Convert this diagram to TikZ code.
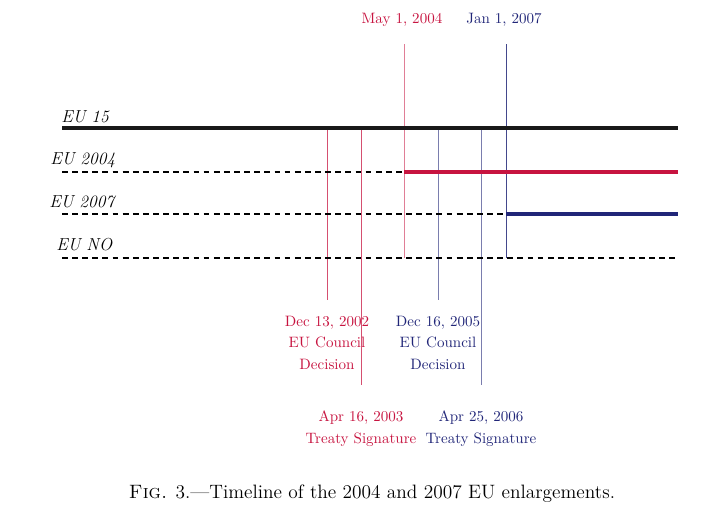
\documentclass[tikz,border=0pt]{standalone}
\usepackage{amsmath}
\usepackage{tikz}
\usetikzlibrary{positioning}

\begin{document}
\begin{tikzpicture}[x=0.0243cm,y=-0.0243cm,
  member/.style={line width=2.8pt},
  outside/.style={line width=1pt,dash pattern=on 4pt off 3pt},
  event/.style={line width=0.5pt},
  datelabel/.style={align=center,inner sep=1pt,font=\fontsize{10.4}{15.2}\selectfont},
  grouplabel/.style={anchor=west,inner sep=0pt,font=\large\itshape}]
%
\useasboundingbox (0,0) rectangle (719,512);
%
\definecolor{cred}{rgb}{0.78,0.08,0.25}
\definecolor{cblue}{rgb}{0.13,0.15,0.47}
%
\node[grouplabel] (l15) at (61,117) {EU 15};
\node[grouplabel] (l04) at (50,160) {EU 2004};
\node[grouplabel] (l07) at (49,202) {EU 2007};
\node[grouplabel] (lno) at (56,245) {EU NO};
%
\coordinate (a0) at (62,128);   \coordinate (a1) at (678,128);
\coordinate (b0) at (62,172);   \coordinate (b1) at (404,172);   \coordinate (b2) at (678,172);
\coordinate (c0) at (62,214);   \coordinate (c1) at (506,214);   \coordinate (c2) at (678,214);
\coordinate (d0) at (62,258);   \coordinate (d1) at (678,258);
%
\node[datelabel,text=cred] (may) at (402,20) {May 1, 2004};
\node[datelabel,text=cblue] (jan) at (504,20) {Jan 1, 2007};
\node[datelabel,text=cred,anchor=north] (dec02) at (327,314) {Dec 13, 2002\\EU Council\\Decision};
\node[datelabel,text=cblue,anchor=north] (dec05) at (438,314) {Dec 16, 2005\\EU Council\\Decision};
\node[datelabel,text=cred,anchor=north] (apr03) at (361,409) {Apr 16, 2003\\Treaty Signature};
\node[datelabel,text=cblue,anchor=north] (apr06) at (481,409) {Apr 25, 2006\\Treaty Signature};
%
\coordinate (v1t) at (327,128);  \coordinate (v1b) at (327,300);
\coordinate (v2t) at (361,128);  \coordinate (v2b) at (361,385);
\coordinate (v3t) at (404,44);   \coordinate (v3b) at (404,258);
\coordinate (v4t) at (438,128);  \coordinate (v4b) at (438,300);
\coordinate (v5t) at (481,128);  \coordinate (v5b) at (481,385);
\coordinate (v6t) at (506,44);   \coordinate (v6b) at (506,258);
%
\draw[event,cred!75] (v1t) -- (v1b);
\draw[event,cred!75] (v2t) -- (v2b);
\draw[event,cred!55] (v3t) -- (v3b);
\draw[event,cblue!60] (v4t) -- (v4b);
\draw[event,cblue!60] (v5t) -- (v5b);
\draw[event,cblue!85] (v6t) -- (v6b);
%
\draw[member,black!90] (a0) -- (a1);
\draw[outside] (b0) -- (b1);
\draw[member,cred] (b1) -- (b2);
\draw[outside] (c0) -- (c1);
\draw[member,cblue] (c1) -- (c2);
\draw[outside] (d0) -- (d1);
%
\node[font=\fontsize{13.4}{16}\selectfont] (cap) at (372,494) {\textsc{Fig.} 3.---Timeline of the 2004 and 2007 EU enlargements.};
%
\end{tikzpicture}
\end{document}
